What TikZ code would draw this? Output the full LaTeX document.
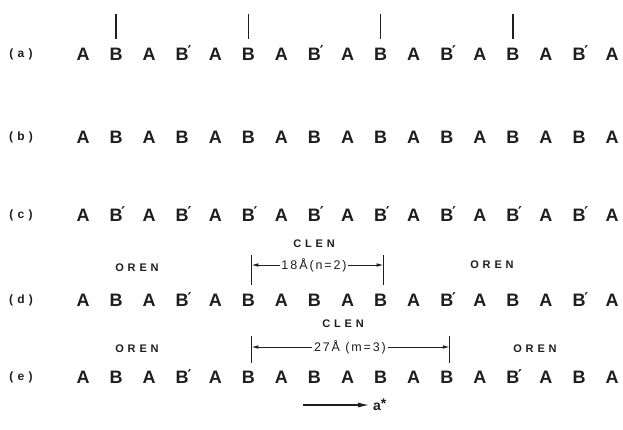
\documentclass[tikz,border=0pt]{standalone}
\usepackage{fontspec}
\setmainfont{Liberation Sans}
\newfontfamily\primefont{DejaVu Sans}
\usetikzlibrary{arrows.meta}

\definecolor{ink}{HTML}{1E1E1E}

% stacking units: A, B and the primed B'
\newcommand\glA{A}
\newcommand\glB{B}
\newcommand\glP{B\rlap{\smash{\kern-1.2pt\raisebox{3.2pt}{\primefont\bfseries\fontsize{15}{15}\selectfont\char"2032}}}}

\tikzset{
  x=1pt, y=-1pt,
  unit/.style={font=\fontsize{18}{18}\selectfont\bfseries, inner sep=0pt, text=ink},
  rowlabel/.style={font={\fontsize{12}{14}\selectfont\bfseries\addfontfeatures{LetterSpace=35}}, inner sep=0pt, text=ink},
  tag/.style={font={\fontsize{11}{13}\selectfont\bfseries\addfontfeatures{LetterSpace=35}}, inner sep=0pt, text=ink},
  dimtext/.style={font={\fontsize{12.5}{14}\selectfont\addfontfeatures{LetterSpace=15}}, inner sep=1.5pt, text=ink},
  tick/.style={draw=ink, line width=1.3pt},
  dimline/.style={draw=ink, line width=1pt, -{Latex[length=7pt,width=3.6pt]}},
  axis/.style={draw=ink, line width=1.1pt, -{Latex[length=11pt,width=5pt]}},
}

\begin{document}
\begin{tikzpicture}
  \fill[white] (0,0) rectangle (623,429);
  \useasboundingbox (0,0) rectangle (623,429);

  % five stacking sequences
  \foreach \r/\yy/\seq in {
      a/54/{A,B,A,P,A,B,A,P,A,B,A,P,A,B,A,P,A},
      b/137/{A,B,A,B,A,B,A,B,A,B,A,B,A,B,A,B,A},
      c/215/{A,P,A,P,A,P,A,P,A,P,A,P,A,P,A,P,A},
      d/300/{A,B,A,P,A,B,A,B,A,B,A,P,A,B,A,P,A},
      e/377/{A,B,A,P,A,B,A,B,A,B,A,B,A,P,A,B,A}} {
    \node[rowlabel] (lab\r) at (21,\yy) {(\r)};
    \foreach \ch [count=\i] in \seq {
      \node[unit] (\r\i) at ({83+(\i-1)*33.07},\yy) {\csname gl\ch\endcsname};
    }
  }

  % markers above the B layers of (a)
  \foreach \i in {2,6,10,14} {
    \coordinate (top\i) at ([yshift=34pt]a\i.north);
    \draw[tick] ([yshift=9pt]a\i.north) -- (top\i);
  }

  % (d): correlation length with n = 2
  \coordinate (dL) at ([xshift=3pt,yshift=9pt]d6.north);
  \coordinate (dR) at ([xshift=3pt,yshift=9pt]d10.north);
  \coordinate (dLt) at ([yshift=30pt]dL);
  \coordinate (dRt) at ([yshift=30pt]dR);
  \draw[tick] (dL) -- (dLt);
  \draw[tick] (dR) -- (dRt);
  \node[dimtext] (dimd) at (314,265) {18\,Å(n=2)};
  \draw[dimline] (dimd.west) -- (dL |- dimd.west);
  \draw[dimline] (dimd.east) -- (dR |- dimd.east);
  \node[tag] (clend) at (314,244) {CLEN};
  \node[tag] (orendl) at (137,268) {OREN};
  \node[tag] (orendr) at (492,265) {OREN};

  % (e): correlation length with m = 3
  \coordinate (eL) at ([xshift=3pt,yshift=8pt]e6.north);
  \coordinate (eR) at ([xshift=3pt,yshift=8pt]e12.north);
  \coordinate (eLt) at ([yshift=27pt]eL);
  \coordinate (eRt) at ([yshift=27pt]eR);
  \draw[tick] (eL) -- (eLt);
  \draw[tick] (eR) -- (eRt);
  \node[dimtext] (dime) at (350,347) {27Å (m=3)};
  \draw[dimline] (dime.west) -- (eL |- dime.west);
  \draw[dimline] (dime.east) -- (eR |- dime.east);
  \node[tag] (clene) at (343,324) {CLEN};
  \node[tag] (orenel) at (137,349) {OREN};
  \node[tag] (orener) at (535,349) {OREN};

  % reciprocal axis direction
  \node[font=\fontsize{14}{14}\selectfont\bfseries, text=ink, inner sep=0pt, anchor=west] (astar) at (373,405) {a\raisebox{2pt}{*}};
  \coordinate (axstart) at (303,405);
  \draw[axis] (axstart) -- ([xshift=-4pt]astar.west);
\end{tikzpicture}
\end{document}
